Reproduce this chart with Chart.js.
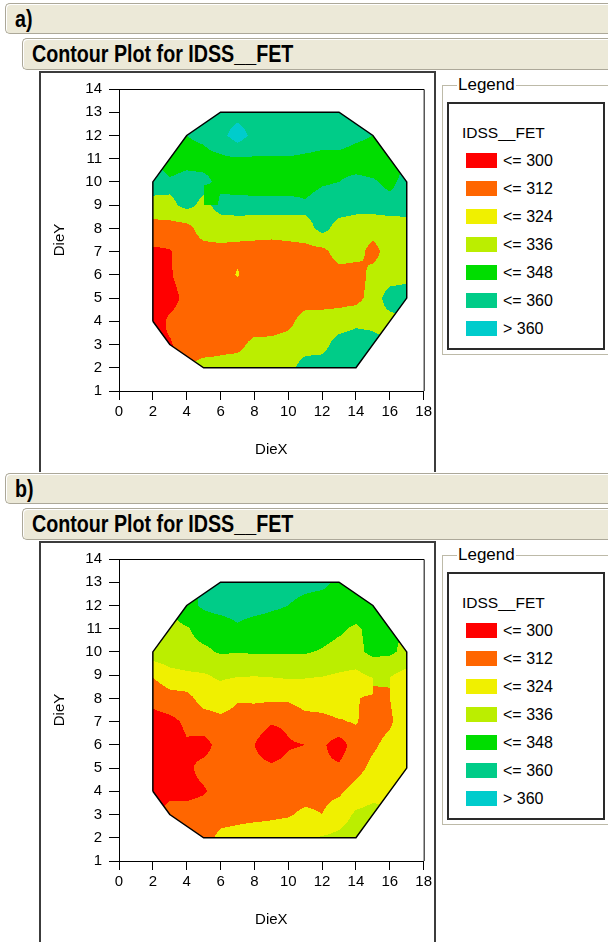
<!DOCTYPE html>
<html>
<head>
<meta charset="utf-8">
<script src="https://cdn.jsdelivr.net/npm/chart.js@4.4.1/dist/chart.umd.min.js"></script>
<style>
html, body { margin: 0; padding: 0; background: #fff; }
body { width: 608px; height: 942px; position: relative; overflow: hidden; font-family: "Liberation Sans", Arial, sans-serif; color: #000; }
.panel { position: absolute; left: 0; width: 608px; height: 472px; overflow: hidden; }
.bar { position: absolute; height: 29px; background: #ece9d8; border: 1px solid #aca899; border-right: none; border-radius: 5px 0 0 5px; box-shadow: inset 1px 1px 0 #fff; }
.bar span { position: absolute; left: 9px; top: 0; font-weight: bold; font-size: 24px; line-height: 29px; transform: scaleX(0.82); transform-origin: 0 0; white-space: nowrap; }
.frame { position: absolute; left: 39px; top: 71px; width: 393px; height: 420px; border: 2px solid #3c3c3c; border-bottom: none; }
.panel canvas { position: absolute; left: 41px; top: 73px; }
.group { position: absolute; left: 442px; top: 85px; width: 180px; height: 268px; border: 1px solid #bdbaa8; box-shadow: inset 1px 1px 0 #fff, 1px 1px 0 #fff; }
.gtitle { position: absolute; left: 457px; top: 76px; font-size: 17px; line-height: 18px; background: #fff; padding: 0 1px; }
.inner { position: absolute; left: 447px; top: 102px; width: 154px; height: 244px; border: 2px solid #2a2a2a; }
.ltitle { position: absolute; left: 462px; top: 124px; font-size: 15.5px; line-height: 18px; white-space: nowrap; }
.sw { position: absolute; left: 466px; width: 31px; height: 15px; }
.lab { position: absolute; left: 503px; font-size: 16px; line-height: 18px; white-space: nowrap; }
</style>
</head>
<body>
<script>
// die grid: columns are DieX, rows are DieY (top row first)
const dieX = [2, 3, 4, 5, 6, 7, 8, 9, 10, 11, 12, 13, 14, 15, 16, 17];
const dieY = [13, 12, 11, 10, 9, 8, 7, 6, 5, 4, 3, 2];

// contour levels and legend
const bandLimits = [300, 312, 324, 336, 348, 360];
const bandLabels = ['<= 300', '<= 312', '<= 324', '<= 336', '<= 348', '<= 360', '> 360'];
const bandColors = ['#ff0000', '#ff6600', '#f0f000', '#bbee00', '#00dd00', '#00cc88', '#00cccc'];

const xRange = [0, 18, 2];
const yRange = [1, 14, 1];

// IDSS__FET per die, panel a)
const idssA = [
  [null, null, null, null, 354, 355, 355, 355, 354, 354, 354, 353, null, null, null, null],
  [null, null, 348, 350, 356, 366, 356, 357, 357, 355, 353, 353, 350, 348, null, null],
  [null, 344, 345, 345, 346, 347, 347, 347, 347, 346, 345, 345, 344, 343, 343, null],
  [352, 349, 351, 350, 346, 343, 342, 342, 342, 345, 347, 348, 350, 349, 346, 351],
  [335, 336, 349, 336, 350, 352, 352, 352, 352, 349, 352, 353, 350, 351, 351, 350],
  [307, 308, 309, 330, 330, 330, 329, 328, 329, 332, 350, 333, 330, 328, 332, 334],
  [298, 299, 306, 308, 311, 309, 308, 307, 309, 310, 311, 328, 328, 309, 330, 333],
  [295, 299, 305, 305, 305, 313, 305, 305, 305, 305, 306, 310, 306, 326, 330, 335],
  [294, 296, 303, 304, 304, 304, 304, 304, 304, 305, 308, 309, 310, 328, 354, 354],
  [294, 302, 304, 304, 304, 304, 304, 305, 310, 330, 328, 330, 336, 336, 333, null],
  [null, 299, 305, 305, 311, 311, 325, 325, 330, 332, 334, 352, 356, 350, null, null],
  [null, null, null, 328, 326, 330, 330, 331, 334, 352, 353, 354, 354, null, null, null]
];

// IDSS__FET per die, panel b)
const idssB = [
  [null, null, null, null, 354, 355, 354, 352, 352, 351, 350, 346, null, null, null, null],
  [null, null, 344, 350, 353, 354, 353, 350, 348, 345, 344, 346, 344, 343, null, null],
  [null, 333, 335, 340, 341, 346, 342, 342, 342, 342, 341, 338, 334, 340, 338, null],
  [331, 332, 333, 334, 337, 336.5, 337, 337, 337, 337, 335, 332, 333, 339, 338, 333],
  [313, 320, 322, 323, 326, 325, 324.5, 325, 326, 325, 324.5, 323, 321, 326, 325, 320],
  [303, 307, 308, 317, 318, 313, 314, 314, 314, 318, 317, 319, 313, 309, 312, 320],
  [296, 297, 302, 306, 309, 308, 305, 301, 302, 307, 309, 311, 313, 306, 310, 320],
  [292, 294, 299, 296, 304, 306, 300, 293, 299, 300, 302, 294, 306, 310, 316, 323],
  [293, 295, 298, 303, 305, 306, 303, 302, 303, 305, 302, 302, 308, 315, 318, 320],
  [294, 298, 297, 299, 304, 306, 307, 307, 308, 308, 309, 310, 316, 320, 322, null],
  [null, 303, 304, 305, 306, 308, 309, 310, 311, 314, 312, 318, 326, 328, null, null],
  [null, null, null, 305, 316, 317, 318, 318, 319, 322, 325, 327, 330, null, null, null]
];

Chart.defaults.font.family = '"Liberation Sans", Arial, sans-serif';
Chart.defaults.color = '#000';

function bandOf(v) {
  let k = 0;
  while (k < bandLimits.length && v > bandLimits[k]) k++;
  return k;
}

function hexRgb(h) {
  return [parseInt(h.slice(1, 3), 16), parseInt(h.slice(3, 5), 16), parseInt(h.slice(5, 7), 16)];
}

function diePoints(grid) {
  const pts = [];
  grid.forEach((row, r) => row.forEach((v, c) => {
    if (v !== null) pts.push({x: dieX[c], y: dieY[r], v: v});
  }));
  return pts;
}

// convex hull of the die centres = wafer outline
function hullOf(pts) {
  const p = pts.map(d => ({x: d.x, y: d.y})).sort((a, b) => a.x - b.x || a.y - b.y);
  const cross = (o, a, b) => (a.x - o.x) * (b.y - o.y) - (a.y - o.y) * (b.x - o.x);
  const lower = [], upper = [];
  for (const q of p) {
    while (lower.length >= 2 && cross(lower[lower.length - 2], lower[lower.length - 1], q) <= 0) lower.pop();
    lower.push(q);
  }
  for (let i = p.length - 1; i >= 0; i--) {
    const q = p[i];
    while (upper.length >= 2 && cross(upper[upper.length - 2], upper[upper.length - 1], q) <= 0) upper.pop();
    upper.push(q);
  }
  upper.pop(); lower.pop();
  const h = lower.concat(upper);
  h.push(h[0]);
  return h;
}

// band for a point between dies (bilinear, no spurious in-between bands)
function bandAt(look, xv, yv) {
  const i0 = Math.floor(xv), j0 = Math.floor(yv);
  const fx = xv - i0, fy = yv - j0;
  const cs = [[i0, j0, (1 - fx) * (1 - fy)], [i0 + 1, j0, fx * (1 - fy)],
              [i0, j0 + 1, (1 - fx) * fy], [i0 + 1, j0 + 1, fx * fy]];
  let sw = 0, sv = 0, mask = 0, n = 0, sum = 0;
  for (const [i, j, w] of cs) {
    const v = look(i, j);
    if (v === null || v === undefined) continue;
    mask |= 1 << bandOf(v);
    sw += w; sv += w * v; n++; sum += v;
  }
  if (!mask) return -1;
  const v = sw > 1e-9 ? sv / sw : sum / n;
  const b = bandOf(v);
  if (mask & (1 << b)) return b;
  let best = -1, bd = Infinity;
  for (let k = 0; k <= bandLimits.length; k++) {
    if (!(mask & (1 << k))) continue;
    const lo = k ? bandLimits[k - 1] : -Infinity;
    const hi = k < bandLimits.length ? bandLimits[k] : Infinity;
    const d = v < lo ? lo - v : (v > hi ? v - hi : 0);
    if (d < bd) { bd = d; best = k; }
  }
  return best;
}

function makeField(grid, hull) {
  const look = (i, j) => {
    const c = dieX.indexOf(i), r = dieY.indexOf(j);
    return c < 0 || r < 0 ? null : grid[r][c];
  };
  const rgb = bandColors.map(hexRgb);
  return {
    id: 'field',
    beforeDatasetsDraw(chart) {
      const {ctx, chartArea: a, scales: {x, y}} = chart;
      const w = Math.round(a.right - a.left), h = Math.round(a.bottom - a.top);
      const off = document.createElement('canvas');
      off.width = w; off.height = h;
      const octx = off.getContext('2d');
      const img = octx.createImageData(w, h);
      for (let py = 0; py < h; py++) {
        const yv = y.getValueForPixel(a.top + py + 0.5);
        for (let px = 0; px < w; px++) {
          const xv = x.getValueForPixel(a.left + px + 0.5);
          const b = bandAt(look, xv, yv);
          if (b < 0) continue;
          const k = (py * w + px) * 4;
          img.data[k] = rgb[b][0]; img.data[k + 1] = rgb[b][1]; img.data[k + 2] = rgb[b][2]; img.data[k + 3] = 255;
        }
      }
      octx.putImageData(img, 0, 0);
      ctx.save();
      ctx.beginPath();
      hull.forEach((p, i) => {
        const X = x.getPixelForValue(p.x), Y = y.getPixelForValue(p.y);
        if (i) ctx.lineTo(X, Y); else ctx.moveTo(X, Y);
      });
      ctx.closePath();
      ctx.clip();
      ctx.drawImage(off, a.left, a.top);
      ctx.restore();
    },
    afterDraw(chart) {
      const {ctx, chartArea: a} = chart;
      ctx.save();
      ctx.strokeStyle = '#000';
      ctx.lineWidth = 1;
      ctx.beginPath();
      ctx.moveTo(a.left, a.top + 0.5);
      ctx.lineTo(a.right + 0.5, a.top + 0.5);
      ctx.lineTo(a.right + 0.5, a.bottom);
      ctx.stroke();
      ctx.restore();
    }
  };
}

function buildPanel(top, letter, grid) {
  const panel = document.createElement('div');
  panel.className = 'panel';
  panel.style.top = top + 'px';
  panel.innerHTML =
    '<div class="bar" style="left:5px;top:3px;width:640px;"><span>' + letter + ')</span></div>' +
    '<div class="bar" style="left:22px;top:38px;width:640px;height:30px;"><span style="line-height:30px">Contour Plot for IDSS__FET</span></div>' +
    '<div class="frame"></div>' +
    '<div class="group"></div><div class="gtitle">Legend</div>' +
    '<div class="inner"></div><div class="ltitle">IDSS__FET</div>';
  bandLabels.forEach((lab, k) => {
    const cy = 160 + 28 * k;
    panel.innerHTML += '<div class="sw" style="top:' + (cy - 7) + 'px;background:' + bandColors[k] + '"></div>' +
      '<div class="lab" style="top:' + (cy - 8) + 'px">' + lab + '</div>';
  });
  const cv = document.createElement('canvas');
  cv.width = 394; cv.height = 397;
  panel.appendChild(cv);
  document.body.appendChild(panel);

  const pts = diePoints(grid);
  const hull = hullOf(pts);
  const tickFont = {size: 15};
  new Chart(cv.getContext('2d'), {
    type: 'scatter',
    data: {
      datasets: [{
        label: 'dies',
        data: pts,
        pointRadius: 0,
        showLine: false
      }, {
        label: 'wafer',
        data: hull,
        showLine: true,
        borderColor: '#000',
        borderWidth: 1.5,
        pointRadius: 0,
        fill: false
      }]
    },
    options: {
      responsive: false,
      animation: false,
      events: [],
      layout: {padding: {top: 12, right: 9, left: 0, bottom: 0}},
      plugins: {legend: {display: false}, tooltip: {enabled: false}},
      scales: {
        x: {
          type: 'linear', min: xRange[0], max: xRange[1],
          ticks: {stepSize: xRange[2], autoSkip: false, maxRotation: 0, padding: 3, color: '#000', font: tickFont},
          grid: {drawOnChartArea: false, drawTicks: true, tickLength: 9, color: '#000'},
          border: {display: true, color: '#000', width: 1},
          title: {display: true, text: 'DieX', color: '#000', font: {size: 15}, padding: {top: 0, bottom: 11}},
          afterFit: s => { s.height = 79; }
        },
        y: {
          type: 'linear', min: yRange[0], max: yRange[1],
          ticks: {stepSize: yRange[2], autoSkip: false, padding: 7, color: '#000', font: tickFont},
          grid: {drawOnChartArea: false, drawTicks: true, tickLength: 10, color: '#000'},
          border: {display: true, color: '#000', width: 1},
          title: {display: true, text: 'DieY', color: '#000', font: {size: 15}, padding: {top: 10, bottom: 0}},
          afterFit: s => { s.width = 78; }
        }
      }
    },
    plugins: [makeField(grid, hull)]
  });
}

buildPanel(0, 'a', idssA);
buildPanel(470, 'b', idssB);
</script>
</body>
</html>
